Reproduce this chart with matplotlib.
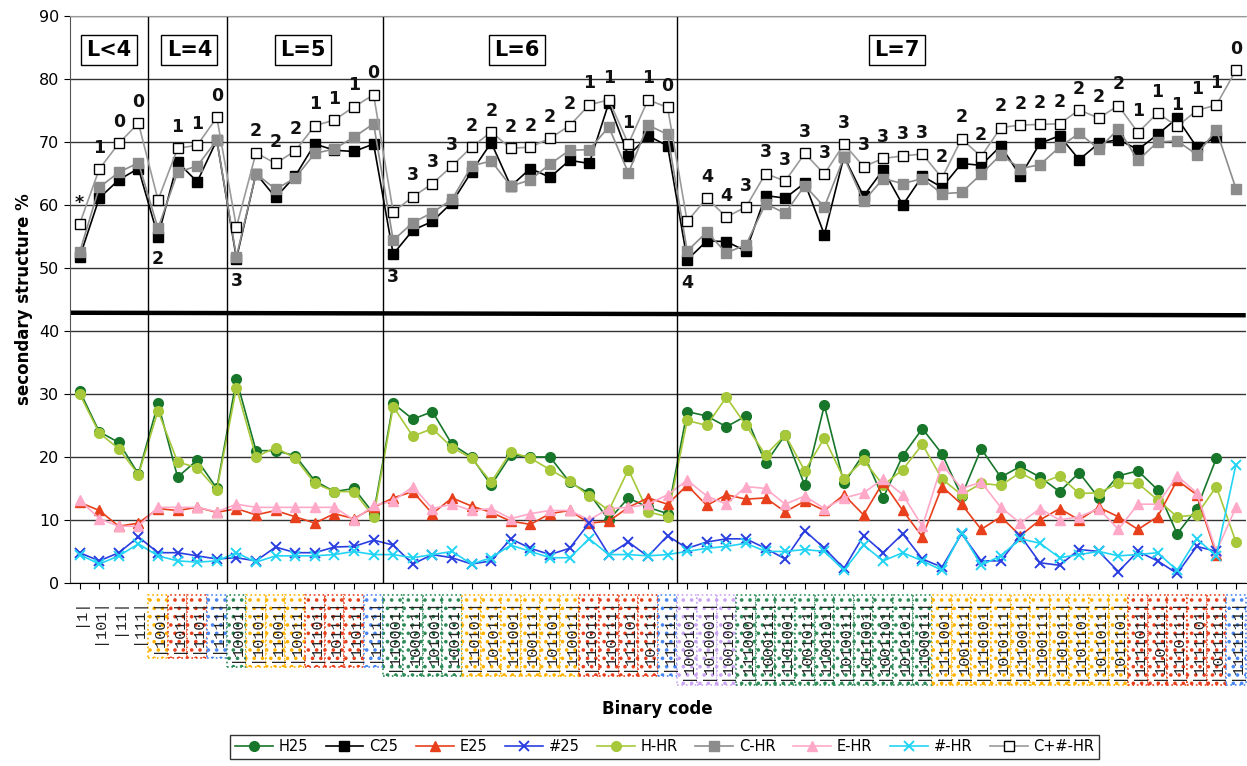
import numpy as np
import matplotlib.pyplot as plt
from matplotlib.patches import Rectangle
from matplotlib.transforms import blended_transform_factory

nan = np.nan
plt.rcParams['hatch.linewidth'] = 1.4

codes = ['|1|', '|101|', '|11|', '|111|',
         '|1001|', '|1011|', '|1101|', '|1111|',
         '|10001|', '|10101|', '|11001|', '|10011|', '|11101|', '|10111|', '|11011|', '|11111|',
         '|110001|', '|100011|', '|101001|', '|100101|',
         '|110101|', '|101011|', '|111001|', '|100111|', '|101101|', '|110011|',
         '|111011|', '|110111|', '|111101|', '|101111|', '|111111|',
         '|1000101|', '|1010001|', '|1001001|',
         '|1110001|', '|1000111|', '|1101001|', '|1001011|', '|1100101|',
         '|1010011|', '|1011001|', '|1001101|', '|1010101|', '|1100011|',
         '|1111001|', '|1001111|', '|1110101|', '|1010111|', '|1110011|',
         '|1100111|', '|1101011|', '|1101101|', '|1011011|', '|1011101|',
         '|1111011|', '|1101111|', '|1110111|', '|1111101|', '|1011111|',
         '|1111111|']

# zero-count marks written over the C+#-HR curve
marks = ['*', '1', '0', '0',
         '2', '1', '1', '0',
         '3', '2', '2', '2', '1', '1', '1', '0',
         '3', '3', '3', '3', '2', '2', '2', '2', '2', '2', '1', '1', '1', '1', '0',
         '4', '4', '4', '3', '3', '3', '3', '3', '3', '3', '3', '3', '3',
         '2', '2', '2', '2', '2', '2', '2', '2', '2', '2', '1', '1', '1', '1', '1', '0']

blocks = ['L<4', 'L=4', 'L=5', 'L=6', 'L=7']
block_sizes = [4, 4, 8, 15, 29]

c25 = [51.7, 61.1, 64.0, 65.8, 55.0, 66.8, 63.7, 70.3, 51.5, 65.0, 61.2, 64.6, 69.7, 68.7, 68.5, 69.7,
       52.2, 56.0, 57.4, 60.4, 65.3, 69.9, 63.0, 65.8, 64.4, 67.1, 66.6, 76.2, 67.8, 71.0, 69.4,
       51.3, 54.3, 54.2, 52.7, 61.5, 61.1, 63.5, 55.3, 67.7, 61.4, 65.6, 60.0, 64.6, 62.8,
       66.6, 66.3, 69.4, 64.6, 69.8, 71.0, 67.2, 69.8, 70.4, 68.8, 71.2, 73.8, 69.2, 70.8, nan]
c_hr = [52.5, 62.8, 65.2, 66.7, 56.3, 65.2, 66.2, 70.3, 51.8, 65.0, 62.5, 64.3, 68.2, 68.9, 70.8, 72.9,
        54.4, 57.2, 58.8, 60.9, 66.2, 67.0, 63.0, 64.0, 66.5, 68.7, 68.8, 72.4, 65.1, 72.7, 71.2,
        52.7, 55.7, 52.4, 53.7, 60.2, 58.7, 63.1, 59.7, 67.6, 60.6, 64.2, 63.4, 64.2, 61.8,
        62.0, 64.9, 68.0, 65.8, 66.4, 69.2, 71.4, 68.9, 72.1, 67.1, 70.0, 70.2, 68.0, 71.9, 62.6]
c_all_hr = [57.0, 65.7, 69.8, 73.0, 60.8, 69.0, 69.5, 73.9, 56.5, 68.3, 66.6, 68.6, 72.6, 73.5, 75.6, 77.5,
            58.9, 61.3, 63.4, 66.2, 69.2, 71.6, 69.0, 69.2, 70.6, 72.6, 75.9, 76.7, 69.7, 76.7, 75.5,
            57.4, 61.1, 58.1, 59.7, 65.0, 63.8, 68.2, 64.9, 69.7, 66.1, 67.4, 67.8, 68.1, 64.3,
            70.5, 67.7, 72.3, 72.7, 72.8, 72.9, 75.1, 73.8, 75.8, 71.5, 74.6, 72.5, 75.0, 75.9, 81.4]

h25 = [30.5, 24.0, 22.3, 17.3, 28.5, 16.8, 19.5, 15.0, 32.3, 21.0, 21.0, 20.2, 16.2, 14.5, 15.0, 11.0,
       28.5, 26.0, 27.2, 22.0, 20.0, 15.5, 20.3, 20.0, 20.0, 16.0, 14.2, 10.0, 13.5, 12.0, 11.0,
       27.2, 26.5, 24.8, 26.5, 19.0, 23.5, 15.5, 28.2, 15.8, 20.5, 13.5, 20.2, 24.5, 20.5,
       13.8, 21.3, 16.8, 18.5, 16.8, 14.5, 17.5, 13.5, 17.0, 17.8, 14.8, 7.8, 11.8, 19.8, nan]
h_hr = [30.0, 23.8, 21.3, 17.2, 27.3, 19.2, 18.3, 14.8, 31.0, 20.0, 21.5, 19.8, 15.8, 14.5, 14.5, 10.5,
        28.0, 23.3, 24.5, 21.5, 19.8, 16.0, 20.8, 19.8, 18.0, 16.2, 13.8, 11.5, 18.0, 11.3, 10.5,
        25.8, 25.0, 29.5, 25.0, 20.3, 23.5, 17.8, 23.0, 16.5, 19.5, 15.5, 18.0, 22.0, 16.5,
        14.0, 15.8, 15.5, 17.5, 15.8, 17.0, 14.2, 14.3, 15.8, 15.8, 13.2, 10.5, 10.8, 15.3, 6.5]
e25 = [12.8, 11.5, 9.0, 9.5, 11.8, 11.5, 12.0, 11.2, 11.8, 10.8, 11.5, 10.5, 9.5, 11.0, 10.2, 12.0,
       13.5, 14.5, 11.0, 13.5, 12.2, 11.2, 9.8, 9.3, 11.0, 11.5, 9.5, 9.8, 12.0, 13.5, 12.5,
       15.5, 12.3, 14.0, 13.3, 13.5, 11.3, 13.0, 11.5, 14.0, 10.8, 16.0, 11.5, 7.3, 15.3,
       12.5, 8.5, 10.5, 7.5, 10.0, 11.8, 10.0, 12.0, 10.5, 8.5, 10.5, 16.3, 14.0, 4.5, nan]
e_hr = [13.2, 10.2, 9.0, 9.0, 12.0, 12.0, 12.0, 11.3, 12.5, 12.0, 12.0, 12.0, 12.0, 12.0, 10.0, 12.3,
        13.0, 15.3, 11.8, 12.5, 11.5, 11.8, 10.2, 11.0, 11.5, 11.5, 10.0, 11.8, 12.0, 12.5, 14.0,
        16.3, 13.8, 12.5, 15.3, 15.0, 12.5, 13.8, 11.8, 13.5, 14.3, 16.5, 14.0, 9.0, 18.8,
        15.0, 16.0, 12.0, 9.5, 11.8, 10.0, 10.5, 11.8, 8.5, 12.5, 12.5, 17.0, 14.3, 5.0, 12.0]
hash25 = [4.8, 3.5, 4.8, 7.3, 4.8, 4.8, 4.3, 3.8, 4.0, 3.5, 5.7, 4.8, 4.8, 5.7, 5.8, 6.8,
          6.0, 3.0, 4.5, 4.0, 3.0, 3.5, 7.0, 5.5, 4.5, 5.5, 9.5, 4.5, 6.5, 4.2, 7.5,
          5.5, 6.5, 7.0, 7.0, 5.5, 3.8, 8.3, 5.5, 2.3, 7.5, 4.8, 7.8, 3.8, 2.5,
          7.8, 3.5, 3.5, 7.5, 3.2, 2.8, 5.3, 5.0, 1.8, 5.0, 3.5, 1.5, 5.8, 5.0, nan]
hash_hr = [4.5, 3.0, 4.3, 6.2, 4.3, 3.5, 3.3, 3.5, 4.8, 3.3, 4.3, 4.3, 4.3, 4.5, 5.0, 4.5,
           4.5, 4.0, 4.5, 5.0, 3.0, 4.0, 6.0, 5.0, 4.0, 4.0, 7.0, 4.5, 4.5, 4.3, 4.5,
           5.0, 5.5, 5.8, 6.3, 5.0, 5.0, 5.3, 5.0, 2.0, 6.0, 3.5, 4.8, 3.5, 2.0,
           8.0, 2.8, 4.3, 7.0, 6.3, 4.0, 4.5, 5.0, 4.3, 4.5, 4.8, 2.0, 7.0, 4.3, 18.8]

box_colors = {0: '#4a86f0', 1: '#e8401c', 2: '#ffb300', 3: '#2e8b57', 4: '#c9a4f2'}

x = np.arange(len(codes))

fig = plt.figure(figsize=(12.47, 7.66), dpi=100)
ax = fig.add_axes([0.056, 0.239, 0.943, 0.740])

# lower group: helix / strand / 3-10 percentages
series = [
    (h25, '#17762a', 'o', 'H25'),
    (h_hr, '#a6c83a', 'o', 'H-HR'),
    (e25, '#e8401c', '^', 'E25'),
    (e_hr, '#ffa8c8', '^', 'E-HR'),
    (hash25, '#2a3ee0', 'x', '#25'),
    (hash_hr, '#22d4f4', 'x', '#-HR'),
]
for vals, col, mk, lab in series:
    kw = dict(markersize=7 if mk != 'x' else 6.5)
    if mk == 'x':
        kw['markeredgewidth'] = 1.4
    ax.plot(x, vals, color=col, marker=mk, lw=1.2, label=lab, **kw)

# upper group: coil percentages
ax.plot(x, c25, color='black', marker='s', markersize=7.5, lw=1.2, label='C25', zorder=3)
ax.plot(x, c_hr, color='#8c8c8c', marker='s', markersize=7.5, lw=1.2, label='C-HR', zorder=3)
ax.plot(x, c_all_hr, color='#9a9a9a', marker='s', markersize=7.5, lw=1.2,
        markerfacecolor='white', markeredgecolor='black', markeredgewidth=1.0,
        label='C+#-HR', zorder=4)

for i, m in enumerate(marks):
    if i in (4, 8, 16, 31):
        y = min(c25[i], c_hr[i]) - 3.6
    else:
        y = c_all_hr[i] + 3.4
    ax.text(x[i], y, m, ha='center', va='center', fontsize=12.5,
            fontweight='bold', color='#111111', zorder=5)

# block separators and titles
edges = np.cumsum(block_sizes)[:-1] - 0.5
for e in edges:
    ax.axvline(e, color='black', lw=1.0, zorder=2)
title_pos = [1.5, 5.6, 11.4, 22.3, 41.7]
for lab, px in zip(blocks, title_pos):
    ax.text(px, 84.6, lab, ha='center', va='center', fontsize=15, fontweight='bold',
            bbox=dict(boxstyle='square,pad=0.25', facecolor='white',
                      edgecolor='black', lw=1.0), zorder=6)

# thick divider between coil and helix/strand groups
ax.plot([-0.5, 59.5], [42.9, 42.5], color='black', lw=3.2, zorder=2,
        solid_capstyle='butt')

ax.set_xlim(-0.5, 59.5)
ax.set_ylim(0, 90)
ax.set_yticks(np.arange(0, 91, 10))
ax.yaxis.grid(True, color='#333333', lw=1.0)
ax.set_axisbelow(True)
ax.tick_params(axis='y', labelsize=11.5, length=4, direction='out')
ax.set_ylabel('secondary structure %', fontsize=12, fontweight='bold')
ax.spines['right'].set_visible(False)
ax.spines['top'].set_color('#999999')
ax.spines['left'].set_color('#555555')

ax.set_xticks(x)
ax.set_xticklabels(codes, rotation=90, fontsize=11, family='Liberation Mono',
                   color='#222222')
ax.tick_params(axis='x', length=4, pad=7)
ax.set_xlabel('Binary code', fontsize=12, fontweight='bold', labelpad=14)

# dotted colour boxes behind the code labels, one column per category
fig.canvas.draw()
renderer = fig.canvas.get_renderer()
to_fig = fig.transFigure.inverted()
trans = blended_transform_factory(ax.transData, fig.transFigure)
for i, t in enumerate(ax.get_xticklabels()):
    if i < 4:
        continue
    bb = t.get_window_extent(renderer).transformed(to_fig)
    col = box_colors[codes[i].count('0')]
    y0 = bb.y0 - 0.006
    y1 = bb.y1 + 0.004
    fig.add_artist(Rectangle((i - 0.5, y0), 1.0, y1 - y0, transform=trans,
                             facecolor='white', edgecolor=col, lw=1.2,
                             linestyle=':', hatch='..', zorder=-1))

order = ['H25', 'C25', 'E25', '#25', 'H-HR', 'C-HR', 'E-HR', '#-HR', 'C+#-HR']
hd, lb = ax.get_legend_handles_labels()
lookup = dict(zip(lb, hd))
fig.legend([lookup[k] for k in order], order, loc='lower center', ncol=9,
           bbox_to_anchor=(0.533, 0.0), fontsize=10.5, frameon=True, fancybox=False,
           edgecolor='black', handlelength=2.6, columnspacing=1.2,
           borderpad=0.3, handletextpad=0.4)

fig.savefig('out.png', dpi=100)
